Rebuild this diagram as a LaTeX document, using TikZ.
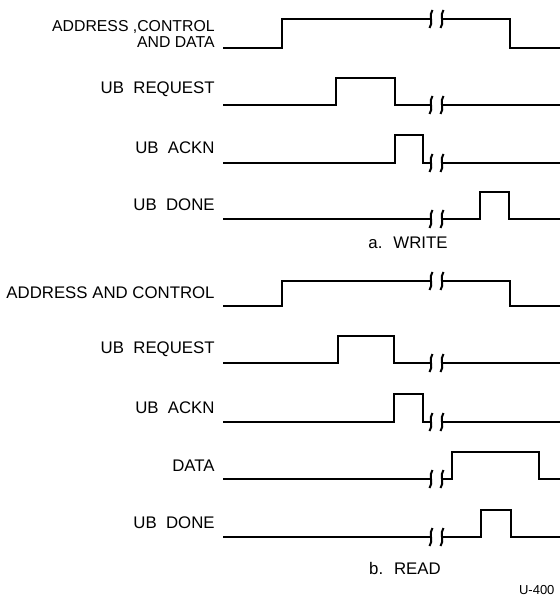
\documentclass[tikz,border=0pt]{standalone}
\usepackage{fontspec}
\setmainfont{Liberation Sans}
\usetikzlibrary{positioning}

% break mark on a signal line: two wavy strokes at x and x+11
\newcommand{\wavebrk}[2]{%
  \draw[brk] ({#1+1.5},{#2-9}) .. controls ({#1-3},{#2-4}) and ({#1+3},{#2+4}) .. ({#1-1.5},{#2+9});
  \draw[brk] ({#1+12.5},{#2-9}) .. controls ({#1+8},{#2-4}) and ({#1+14},{#2+4}) .. ({#1+9.5},{#2+9});}

\begin{document}
\begin{tikzpicture}[x=0.5pt, y=-0.5pt, font=\fontsize{8.4}{8}\selectfont,
  wave/.style={line width=1.2pt, line join=miter},
  brk/.style={line width=1pt},
  sig/.style={anchor=east, align=right, inner sep=0pt}]
  \clip (0,0) rectangle (560,599);
  \useasboundingbox (0,0) rectangle (560,599);

  % a. write
  \node[sig, font=\fontsize{7.9}{8}\selectfont] (wadc) at (215,34) {ADDRESS ,CONTROL\\AND DATA};
  \node[sig] (wreq) at (215,89) {UB \ REQUEST};
  \node[sig] (wack) at (215,148) {UB \ ACKN};
  \node[sig] (wdone) at (215,205) {UB \ DONE};
  \draw[wave] (223,48) -- (282,48) -- (282,19) -- (431,19);
  \draw[wave] (442,19) -- (510,19) -- (510,48) -- (560,48);
  \wavebrk{431}{19}
  \draw[wave] (223,105) -- (336,105) -- (336,78) -- (395,78) -- (395,105) -- (431,105);
  \draw[wave] (442,105) -- (560,105);
  \wavebrk{431}{105}
  \draw[wave] (223,163) -- (395,163) -- (395,135) -- (423,135) -- (423,163) -- (431,163);
  \draw[wave] (442,163) -- (560,163);
  \wavebrk{431}{163}
  \draw[wave] (223,219) -- (431,219);
  \draw[wave] (442,219) -- (480,219) -- (480,192) -- (509,192) -- (509,219) -- (560,219);
  \wavebrk{431}{219}
  \node (write) at (408,243) {a. \ WRITE};

  % b. read
  \node[sig] (rac) at (215,293) {ADDRESS AND CONTROL};
  \node[sig] (rreq) at (215,349) {UB \ REQUEST};
  \node[sig] (rack) at (215,408) {UB \ ACKN};
  \node[sig] (rdata) at (215,466) {DATA};
  \node[sig] (rdone) at (215,523) {UB \ DONE};
  \draw[wave] (223,306) -- (282,306) -- (282,281) -- (431,281);
  \draw[wave] (442,281) -- (510,281) -- (510,306) -- (560,306);
  \wavebrk{431}{281}
  \draw[wave] (223,363) -- (338,363) -- (338,336) -- (394,336) -- (394,363) -- (431,363);
  \draw[wave] (442,363) -- (560,363);
  \wavebrk{431}{363}
  \draw[wave] (223,422) -- (394,422) -- (394,394) -- (423,394) -- (423,422) -- (431,422);
  \draw[wave] (442,422) -- (560,422);
  \wavebrk{431}{422}
  \draw[wave] (223,479) -- (431,479);
  \draw[wave] (442,479) -- (452,479) -- (452,452) -- (539,452) -- (539,479) -- (560,479);
  \wavebrk{431}{479}
  \draw[wave] (223,537) -- (431,537);
  \draw[wave] (442,537) -- (481,537) -- (481,510) -- (511,510) -- (511,537) -- (560,537);
  \wavebrk{431}{537}
  \node (read) at (405,568) {b. \ READ};

  \node[anchor=west, font=\fontsize{6.5}{7}\selectfont] (tag) at (512,590) {U-400};
\end{tikzpicture}
\end{document}
